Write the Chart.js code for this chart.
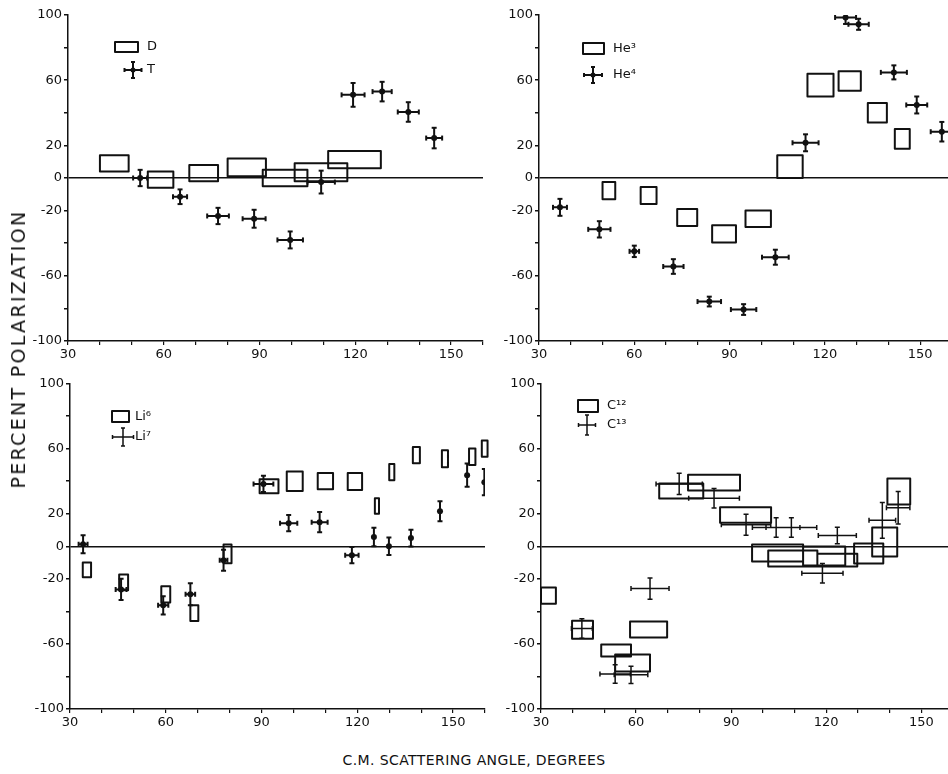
<!DOCTYPE html>
<html>
<head>
<meta charset="utf-8">
<script src="https://cdn.jsdelivr.net/npm/chart.js@4"></script>
<style>
  html, body { margin: 0; padding: 0; background: #fff; overflow: hidden; }
  body { width: 948px; height: 774px; position: relative; font-family: 'DejaVu Sans', sans-serif; color: #111; }
  canvas { position: absolute; }
  .ytitle { position: absolute; left: 18px; top: 349px; transform: translate(-50%, -50%) rotate(-90deg); font-size: 19px; letter-spacing: 2.3px; white-space: nowrap; }
  .xtitle { position: absolute; left: 474px; top: 760px; transform: translate(-50%, -50%); font-size: 14px; letter-spacing: 0.4px; white-space: nowrap; }
</style>
</head>
<body>
<canvas id="tl" width="490" height="372" style="left:0;top:0"></canvas>
<canvas id="tr" width="460" height="372" style="left:500px;top:0"></canvas>
<canvas id="bl" width="492" height="372" style="left:0;top:370px"></canvas>
<canvas id="br" width="460" height="372" style="left:500px;top:370px"></canvas>
<div class="ytitle">PERCENT POLARIZATION</div>
<div class="xtitle">C.M. SCATTERING ANGLE, DEGREES</div>
<script>
const angleTicks = [30, 60, 90, 120, 150];
const polTicks = [100, 60, 20, 0, -20, -60, -100];

// boxes: [angle from, angle to, pol low, pol high]
// crosses: [angle, pol, angle error, pol error]
const namesTL = ['D', 'T'];
const boxesD = [[40, 49, 4, 14], [55, 63, -6, 4], [68, 77, -2, 8], [80, 92, 1, 12], [91, 105, -5, 5], [101, 117.5, -2, 9], [111.5, 128, 6, 16.5]];
const crossesT = [[52.6, 0, 2.2, 5], [65.1, -11.5, 2.2, 4.5], [77, -23.3, 3.4, 5], [88.3, -25, 3.6, 5.5], [99.6, -38, 4, 5.2], [109.3, -2.5, 4.3, 7], [119.3, 51, 3.6, 7.3], [128.4, 53, 3, 6], [136.6, 40.5, 3.3, 6], [144.7, 24.5, 2.5, 6.3]];

const namesTR = ['He³', 'He⁴'];
const boxesHe3 = [[50, 54, -13, -2.5], [62, 67, -16, -5.5], [73.5, 79.8, -29.5, -19], [84.5, 92, -39.5, -29], [95, 103, -30, -20], [105, 113, 0, 14], [114.5, 122.7, 50, 64], [124.3, 131.3, 53.5, 65.5], [133.5, 139.5, 34, 46], [142, 146.7, 18, 30]];
const crossesHe4 = [[36.6, -18, 2.2, 5.2], [49, -31.5, 3.5, 5], [60, -45, 1.5, 3.5], [72.3, -54.3, 3.2, 4.5], [83.6, -75.8, 3.7, 3], [94.4, -80.7, 4, 3.3], [104.4, -48.6, 4.2, 4.6], [113.9, 21.6, 4.1, 5.2], [126.5, 98.5, 3.3, 4], [130.6, 94.3, 3.2, 3.4], [141.7, 64.8, 4.1, 4.3], [148.9, 44.8, 3.3, 5.2], [156.8, 28.4, 3.5, 6]];

const namesBL = ['Li⁶', 'Li⁷'];
const boxesLi6 = [[34, 36.6, -19, -10], [45.4, 48.2, -27, -17.4], [58.6, 61.4, -34.5, -24.6], [67.7, 70.2, -46, -36.3], [78.1, 80.6, -10.5, 1], [89.4, 95.3, 32.6, 41.2], [97.9, 102.9, 34, 46], [107.6, 112.4, 35, 45], [117, 121.5, 34.5, 45], [125.5, 126.8, 20, 29.5], [130, 131.6, 40.6, 50.5], [137.4, 139.6, 51, 61], [146.5, 148.4, 48.6, 59], [155, 157, 50, 60], [159, 160.8, 55, 65]];
const crossesLi7 = [[34.1, 1.2, 1.4, 5.5], [46, -26.5, 1.7, 6.5], [59.2, -36.3, 1.6, 5.6], [67.7, -29.5, 1.5, 6.7], [78.1, -8.6, 1.2, 6.5], [90.6, 38.3, 3.1, 5], [98.5, 14.2, 2.7, 5], [108.2, 14.8, 2.5, 6.2], [118.3, -5.5, 2.1, 5], [125.2, 5.7, 0, 5.7], [129.9, 0, 0, 5.3], [136.8, 5, 0, 5.2], [145.9, 21.5, 0, 6.2], [154.4, 43.7, 0, 7.2], [159.8, 39.4, 0, 8]];

const namesBR = ['C¹²', 'C¹³'];
const boxesC12 = [[30, 34.7, -35.3, -25.4], [39.8, 46.4, -56.8, -45.7], [49, 58.4, -67.7, -60.3], [53.4, 64.4, -77, -66.5], [58.1, 69.8, -56, -46.2], [67.3, 81.2, 29.4, 38.6], [76.4, 92.8, 34.3, 44], [86.5, 102.6, 14.4, 24], [96.6, 112.7, -9.4, 1], [101.7, 117.2, -12.5, -2.6], [112.7, 126, -11.9, -0.2], [117.2, 129.8, -12.5, -4.6], [128.8, 138, -10.6, 1.7], [134.5, 142.4, -6.3, 11.5], [139.3, 146.5, 25.7, 41.7]];
const crossesC13 = [[42.9, -50.6, 3.3, 6], [53.4, -78.5, 4.8, 5.7], [58.4, -79, 5.3, 5.3], [64.4, -26, 6, 6.5], [73.6, 38.3, 7.3, 6.5], [84.6, 29.5, 8, 6], [94.7, 13.2, 7.8, 6.5], [104.2, 11.5, 7.5, 6], [109, 11.5, 8, 6], [118.8, -16.6, 6.5, 6], [123.5, 6.6, 6, 5], [137.7, 15.9, 4.2, 11], [142.7, 23.7, 3.7, 10]];

const ink = '#111';
const tickFont = { family: 'DejaVu Sans', size: 13 };

// draws the little key (box + cross) inside each panel
const keyPlugin = {
  id: 'keys',
  afterDraw(chart, args, o) {
    const ctx = chart.ctx, a = chart.chartArea;
    const bx = a.left + o.x, by = a.top + o.y;
    const cx = bx + o.cx, cy = by + o.cy;
    ctx.save();
    ctx.strokeStyle = ink;
    ctx.fillStyle = ink;
    ctx.lineWidth = 2;
    ctx.lineJoin = 'round';
    ctx.strokeRect(bx, by, o.w, o.h);
    ctx.lineWidth = o.lw;
    ctx.beginPath();
    ctx.moveTo(cx - o.ah, cy); ctx.lineTo(cx + o.ah, cy);
    ctx.moveTo(cx, cy - o.av); ctx.lineTo(cx, cy + o.av);
    ctx.moveTo(cx - o.ah, cy - 2); ctx.lineTo(cx - o.ah, cy + 2);
    ctx.moveTo(cx + o.ah, cy - 2); ctx.lineTo(cx + o.ah, cy + 2);
    ctx.moveTo(cx - 2, cy - o.av); ctx.lineTo(cx + 2, cy - o.av);
    ctx.moveTo(cx - 2, cy + o.av); ctx.lineTo(cx + 2, cy + o.av);
    ctx.stroke();
    if (o.dot) {
      ctx.beginPath();
      ctx.arc(cx, cy, 2.5, 0, Math.PI * 2);
      ctx.fill();
    }
    ctx.font = '13px "DejaVu Sans"';
    ctx.textBaseline = 'middle';
    ctx.fillText(o.names[0], bx + o.tx, by + o.h / 2);
    ctx.fillText(o.names[1], bx + o.tx, cy);
    ctx.restore();
  }
};

function boxPoints(boxes) {
  const pts = [];
  boxes.forEach(([x1, x2, y1, y2]) => {
    pts.push({ x: x1, y: y1 }, { x: x2, y: y1 }, { x: x2, y: y2 }, { x: x1, y: y2 }, { x: x1, y: y1 }, { x: x1, y: null });
  });
  return pts;
}

function barPoints(crosses) {
  const pts = [];
  crosses.forEach(([x, y, dx, dy]) => {
    if (dx) pts.push({ x: x - dx, y: y, cap: 'h' }, { x: x + dx, y: y, cap: 'h' }, { x: x, y: null });
    pts.push({ x: x, y: y - dy, cap: 'v' }, { x: x, y: y + dy, cap: 'v' }, { x: x, y: null });
  });
  return pts;
}

function panel(id, boxes, crosses, o) {
  const datasets = [
    {
      data: boxPoints(boxes), showLine: true, spanGaps: false,
      borderColor: ink, borderWidth: 2, borderJoinStyle: 'round', pointRadius: 0, clip: 8
    },
    {
      data: barPoints(crosses), showLine: true, spanGaps: false,
      borderColor: ink, borderWidth: o.lw, pointStyle: 'line', pointRadius: 2.5,
      pointBorderColor: ink, pointBorderWidth: o.lw,
      pointRotation: c => (c.raw && c.raw.cap === 'h' ? 90 : 0)
    }
  ];
  if (o.dot) {
    datasets.push({
      data: crosses.map(([x, y]) => ({ x, y })),
      pointRadius: 3, pointBackgroundColor: ink, pointBorderColor: ink, pointBorderWidth: 0
    });
  }
  new Chart(document.getElementById(id), {
    type: 'scatter',
    data: { datasets },
    options: {
      responsive: false,
      animation: false,
      events: [],
      layout: { padding: o.pad },
      plugins: { legend: { display: false }, tooltip: { enabled: false }, keys: o.key },
      scales: {
        x: {
          type: 'linear', min: 30, max: 160,
          afterFit: s => { s.height = o.xh; },
          border: { color: ink, width: 1.5 },
          grid: { drawOnChartArea: false, color: ink, tickLength: 4, lineWidth: 1.2 },
          ticks: {
            stepSize: 10, autoSkip: false, maxRotation: 0, padding: 2, color: ink, font: tickFont,
            callback: v => (angleTicks.includes(v) ? String(v) : '')
          }
        },
        y: {
          min: -100, max: 100,
          afterFit: s => { s.width = o.yw; },
          border: { color: ink, width: 1.5 },
          grid: {
            color: c => (c.tick && c.tick.value === 0 ? ink : 'rgba(0,0,0,0)'),
            tickColor: ink, tickLength: 4, lineWidth: 1.5
          },
          ticks: {
            stepSize: 20, autoSkip: false, padding: 2, color: ink, font: tickFont,
            callback: v => (polTicks.includes(v) ? String(v) : '')
          }
        }
      }
    },
    plugins: [keyPlugin]
  });
}

panel('tl', boxesD, crossesT, {
  pad: { top: 15, right: 7, left: 0, bottom: 0 }, yw: 68, xh: 31, lw: 2, dot: true,
  key: { x: 47, y: 27, w: 23, h: 10, cx: 18, cy: 28, ah: 8.5, av: 8, lw: 2, dot: true, tx: 32, names: namesTL }
});
panel('tr', boxesHe3, crossesHe4, {
  pad: { top: 15, right: 8, left: 0, bottom: 0 }, yw: 39, xh: 31, lw: 2, dot: true,
  key: { x: 44, y: 28, w: 21, h: 11, cx: 10, cy: 32, ah: 9, av: 8, lw: 2, dot: true, tx: 30, names: namesTR }
});
panel('bl', boxesLi6, crossesLi7, {
  pad: { top: 13.5, right: 7, left: 0, bottom: 0 }, yw: 70, xh: 33, lw: 2, dot: true,
  key: { x: 42, y: 27.5, w: 17, h: 11, cx: 11, cy: 26, ah: 10.5, av: 9, lw: 1.5, dot: false, tx: 23, names: namesBL }
});
panel('br', boxesC12, crossesC13, {
  pad: { top: 13.5, right: 7, left: 0, bottom: 0 }, yw: 41, xh: 33, lw: 1.5, dot: false,
  key: { x: 37, y: 16.5, w: 20, h: 12, cx: 9, cy: 25, ah: 8.5, av: 10, lw: 1.5, dot: false, tx: 29, names: namesBR }
});
</script>
</body>
</html>
